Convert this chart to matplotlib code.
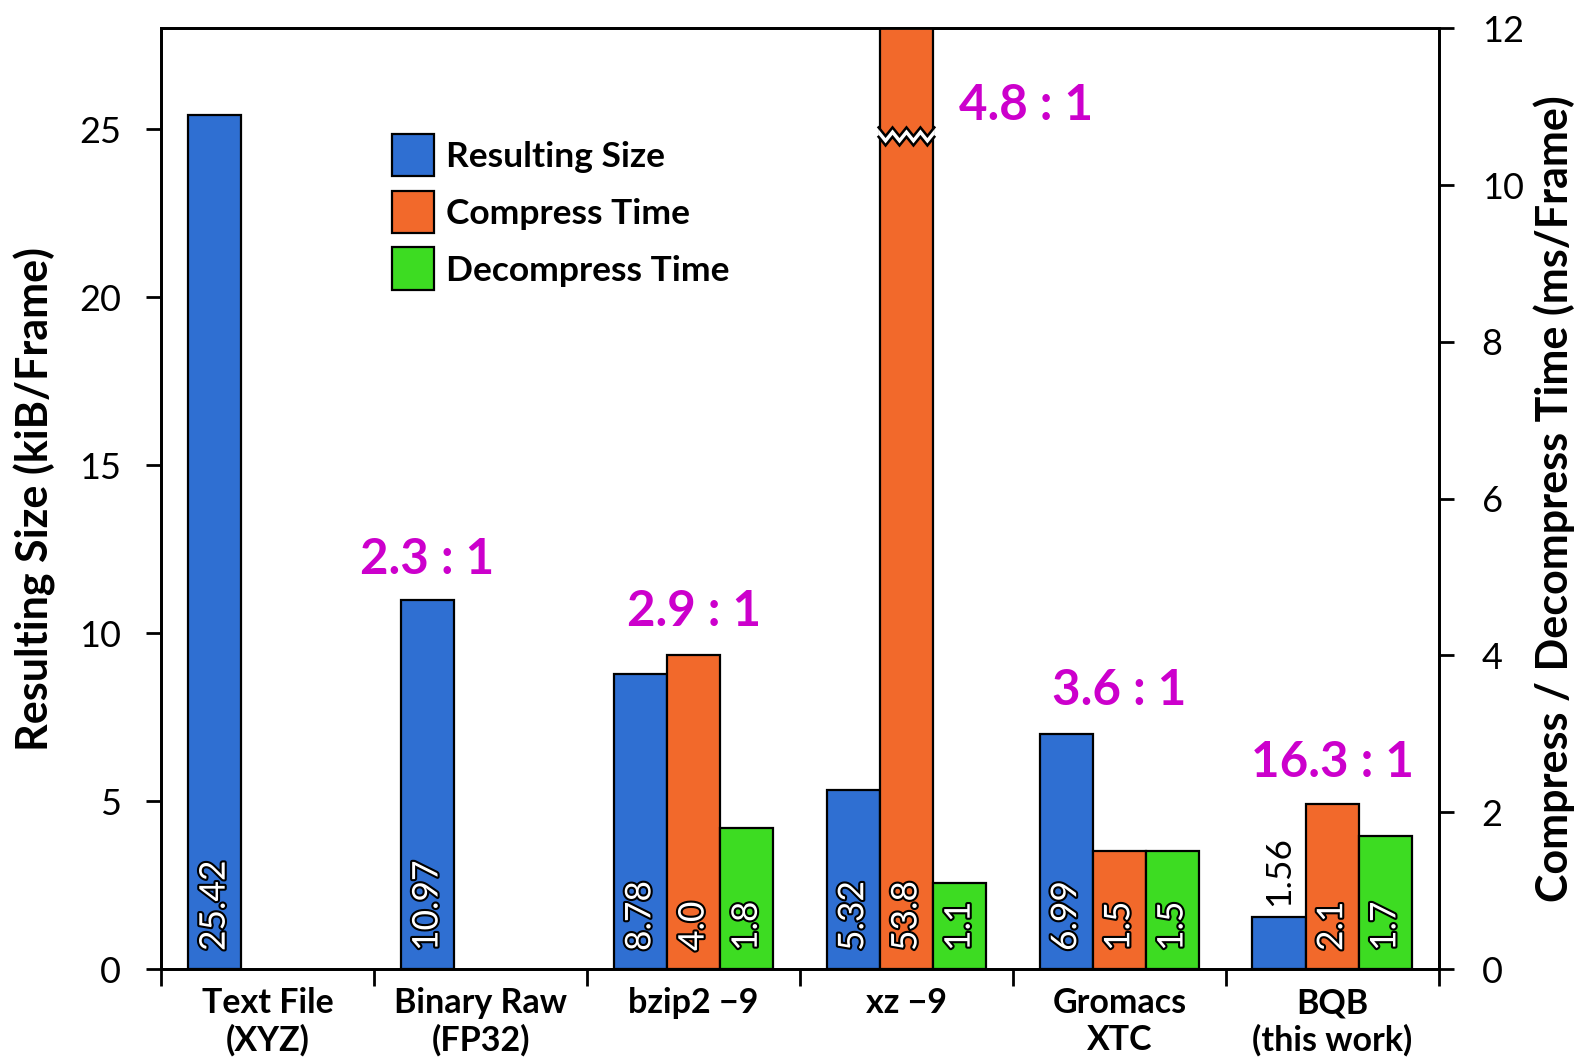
import numpy as np
import matplotlib
matplotlib.use("Agg")
import matplotlib.pyplot as plt
import matplotlib.patheffects as pe
from matplotlib.patches import Polygon, Patch

plt.rcParams['font.family'] = ['Lato', 'DejaVu Sans']

# ---- data ----
categories = ["Text File\n(XYZ)", "Binary Raw\n(FP32)", "bzip2 \u22129", "xz \u22129",
              "Gromacs\nXTC", "BQB\n(this work)"]
size_kib = [25.42, 10.97, 8.78, 5.32, 6.99, 1.56]            # kiB/frame
size_labels = ["25.42", "10.97", "8.78", "5.32", "6.99", "1.56"]
compress_ms = [None, None, 4.0, 53.8, 1.5, 2.1]              # ms/frame
decompress_ms = [None, None, 1.8, 1.1, 1.5, 1.7]             # ms/frame
ratios = [None, "2.3 : 1", "2.9 : 1", "4.8 : 1", "3.6 : 1", "16.3 : 1"]
size_ticks = [0, 5, 10, 15, 20, 25]
time_ticks = [0, 2, 4, 6, 8, 10, 12]

C_BLUE = "#2f6fd2"
C_ORANGE = "#f2692b"
C_GREEN = "#3ddc22"
C_MAG = "#cc00cc"

fig = plt.figure(figsize=(15.83, 10.62), dpi=100)
ax = fig.add_axes([0.102, 0.0875, 0.8068, 0.8859])
ax2 = ax.twinx()

W = 0.25
x = np.arange(len(categories))
EDGE = dict(edgecolor="black", linewidth=1.6)

ax.bar(x - W, size_kib, W, color=C_BLUE, **EDGE, zorder=2)
cx = [xi for xi, v in zip(x, compress_ms) if v is not None]
cv = [v for v in compress_ms if v is not None]
dx = [xi for xi, v in zip(x, decompress_ms) if v is not None]
dv = [v for v in decompress_ms if v is not None]
ax2.bar(np.array(cx), cv, W, color=C_ORANGE, **EDGE, zorder=2)
ax2.bar(np.array(dx) + W, dv, W, color=C_GREEN, **EDGE, zorder=2)

ax.set_xlim(-0.5, len(categories) - 0.5)
ax.set_ylim(0, 28)
ax2.set_ylim(0, 12)

# value labels
outline = [pe.withStroke(linewidth=3, foreground="black")]
lab_kw = dict(rotation=90, ha="center", va="bottom", fontsize=25.5,
              textcoords="offset points", annotation_clip=False)
for xi, v, s in zip(x, size_kib, size_labels):
    if v < 3:
        ax.annotate(s, (xi - W, v), xytext=(0, 8), color="black", **lab_kw)
    else:
        t = ax.annotate(s, (xi - W, 0), xytext=(0, 13), color="white", **lab_kw)
        t.set_path_effects(outline)
for xi, v in zip(x, compress_ms):
    if v is not None:
        t = ax2.annotate(f"{v:.1f}", (xi, 0), xytext=(0, 13), color="white", **lab_kw)
        t.set_path_effects(outline)
for xi, v in zip(x, decompress_ms):
    if v is not None:
        t = ax2.annotate(f"{v:.1f}", (xi + W, 0), xytext=(0, 13), color="white", **lab_kw)
        t.set_path_effects(outline)

# compression ratios
ratio_pos = [None, (1 - W, 12.2), (2, 10.65), (3.56, 25.7), (4, 8.3), (5, 6.15)]
for r, p in zip(ratios, ratio_pos):
    if r is not None:
        ax.text(p[0], p[1], r, color=C_MAG, fontsize=35.5, fontweight="bold",
                ha="center", va="center")

# axis break on the clipped xz compress bar
xb0, xb1 = 3 - W / 2 - 0.006, 3 + W / 2 + 0.006
yb, amp, gap = 10.62, 0.055, 0.12
n = 9
xs = np.linspace(xb0, xb1, n)
zig = np.array([amp if i % 2 == 0 else -amp for i in range(n)])
top = yb + gap / 2 + zig
bot = yb - gap / 2 + zig
poly = np.vstack([np.column_stack([xs, top]), np.column_stack([xs[::-1], bot[::-1]])])
ax2.add_patch(Polygon(poly, closed=True, facecolor="white", edgecolor="none", zorder=3))
ax2.plot(xs, top, color="black", lw=1.8, zorder=4, solid_joinstyle="miter")
ax2.plot(xs, bot, color="black", lw=1.8, zorder=4, solid_joinstyle="miter")

# ticks and spines
for a in (ax, ax2):
    for s in a.spines.values():
        s.set_linewidth(2)
ax.set_yticks(size_ticks)
ax2.set_yticks(time_ticks)
ax.tick_params(axis="y", direction="out", length=11, width=2, labelsize=26, pad=18)
ax2.tick_params(axis="y", direction="out", length=11, width=2, labelsize=26, pad=20)
ax.set_xticks(np.arange(-0.5, len(categories), 1.0))
ax.set_xticklabels([])
ax.set_xticks(x, minor=True)
ax.set_xticklabels(categories, minor=True, fontsize=24.5, fontweight="bold",
                   linespacing=1.2)
ax.tick_params(axis="x", which="major", direction="out", length=12, width=2)
ax.tick_params(axis="x", which="minor", length=0, pad=13)

ax.set_ylabel("Resulting Size (kiB/Frame)", fontsize=31, fontweight="bold", labelpad=17)
ax2.set_ylabel("Compress / Decompress Time (ms/Frame)", fontsize=31,
               fontweight="bold", labelpad=7)

# legend
handles = [Patch(facecolor=C_BLUE, edgecolor="black", linewidth=1.6),
           Patch(facecolor=C_ORANGE, edgecolor="black", linewidth=1.6),
           Patch(facecolor=C_GREEN, edgecolor="black", linewidth=1.6)]
ax2.legend(handles, ["Resulting Size", "Compress Time", "Decompress Time"],
           loc="upper left", bbox_to_anchor=(0.1805, 0.888), frameon=False,
           borderpad=0, borderaxespad=0,
           prop=dict(size=25.5, weight="bold"), handlelength=1.19,
           handleheight=1.48, handletextpad=0.34, labelspacing=0.4)

fig.savefig("out.png", dpi=100)
